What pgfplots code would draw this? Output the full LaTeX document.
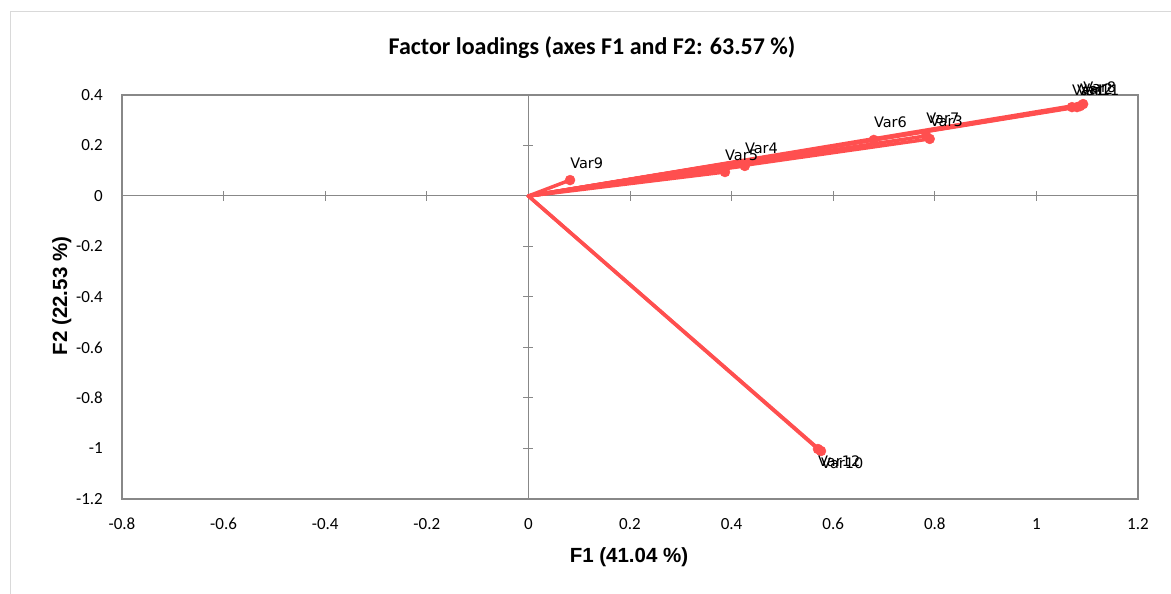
\documentclass[border=0pt]{standalone}
\usepackage{pgfplots}
\pgfplotsset{compat=1.18}
\usepackage{pgfplotstable}
\usepackage{fontspec}
\setmainfont{Carlito}
\newfontfamily\arialf{Liberation Sans}
\newfontfamily\labelf{DejaVu Sans}
\definecolor{redc}{HTML}{FF4F4F}
\definecolor{axgray}{HTML}{888888}
\definecolor{framegray}{HTML}{D9D9D9}

\pgfplotstableread{
label x     y      dy
Var1  1.070 0.352  12
Var11 1.080 0.352  12
Var2  1.086 0.356  12
Var8  1.092 0.364  12
Var6  0.680 0.222  12
Var7  0.783 0.238  12
Var3  0.790 0.226  12
Var4  0.426 0.119  12
Var5  0.387 0.095  12
Var9  0.082 0.063  12
Var10 0.576 -1.010 -17
Var12 0.570 -1.002 -17
}\loadings

\begin{document}
\begin{tikzpicture}
\useasboundingbox (0,0) rectangle (1171pt,594pt);
\draw[framegray, line width=1pt] (10pt,0pt) -- (10pt,582pt) -- (1171pt,582pt);

% zero lines with their small ticks
\begin{axis}[
    at={(122pt,95pt)}, anchor=south west,
    scale only axis, width=1016pt, height=404pt,
    xmin=-0.8, xmax=1.2, ymin=-1.2, ymax=0.4,
    axis lines=middle,
    axis line style={axgray, line width=1pt, -},
    xtick={-0.8,-0.6,-0.4,-0.2,0,0.2,0.4,0.6,0.8,1,1.2},
    ytick={-1.2,-1,-0.8,-0.6,-0.4,-0.2,0,0.2,0.4},
    xticklabels={}, yticklabels={},
    tick align=center, major tick length=10pt,
    tick style={axgray, line width=1pt},
]
\end{axis}

\begin{axis}[
    at={(122pt,95pt)}, anchor=south west,
    scale only axis, width=1016pt, height=404pt,
    xmin=-0.8, xmax=1.2, ymin=-1.2, ymax=0.4,
    clip=false,
    axis line style={axgray, line width=1.5pt},
    xtick={-0.8,-0.6,-0.4,-0.2,0,0.2,0.4,0.6,0.8,1,1.2},
    ytick={-1.2,-1,-0.8,-0.6,-0.4,-0.2,0,0.2,0.4},
    major tick length=0pt,
    /pgf/number format/assume math mode=true,
    ticklabel style={font=\fontsize{17}{20}\selectfont, inner sep=0pt},
    xticklabel style={yshift=-19pt},
    yticklabel style={xshift=-19pt},
]
\addplot[quiver={u=\thisrow{x}, v=\thisrow{y}}, draw=redc, line width=3.5pt, line cap=round]
    table[x expr=0, y expr=0] {\loadings};
\addplot[only marks, mark=*, mark size=5pt, mark options={fill=redc, draw=redc},
    nodes near coords, point meta=explicit symbolic,
    visualization depends on={\thisrow{dy} \as \dy},
    every node near coord/.append style={anchor=base west, yshift=\dy,
        inner sep=0pt, text=black, font=\labelf\fontsize{14.5}{17}\selectfont}]
    table[x=x, y=y, meta=label] {\loadings};
\end{axis}

\node[anchor=base, font=\bfseries\fontsize{24}{28}\selectfont] at (592pt,539pt)
    {Factor loadings (axes F1 and F2: 63.57 \%)};
\node[anchor=base, font=\arialf\bfseries\fontsize{20.5}{24}\selectfont] at (629pt,31pt)
    {F1 (41.04 \%)};
\node[anchor=base, rotate=90, font=\arialf\bfseries\fontsize{20.5}{24}\selectfont] at (67pt,298pt)
    {F2 (22.53 \%)};
\end{tikzpicture}
\end{document}
